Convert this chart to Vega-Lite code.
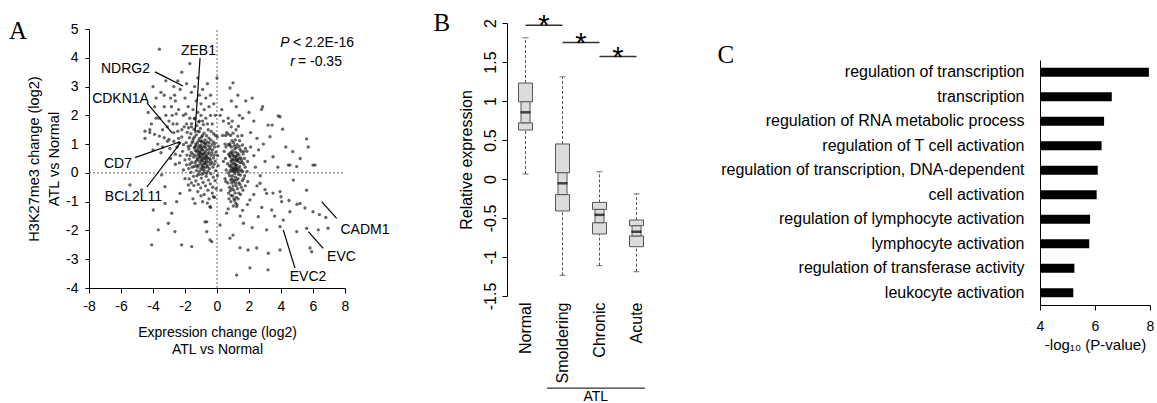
{
"$schema":"https://vega.github.io/schema/vega-lite/v6.json",
"width":1157,"height":403,"padding":0,"autosize":{"type":"none"},
"background":"white",
"config":{"view":{"stroke":null},"font":"Liberation Sans",
 "axis":{"labelFont":"Liberation Sans","titleFont":"Liberation Sans","titleFontWeight":"normal","domainColor":"#000","tickColor":"#000","labelColor":"#000","titleColor":"#000","grid":false,"labelFlush":false,"labelOverlap":false,"domainWidth":1,"tickWidth":1},
 "text":{"font":"Liberation Sans","color":"#000"}},
"datasets":{
 "refs":[{"x":0,"y":-4,"x2":0,"y2":5},{"x":-8,"y":0,"x2":8,"y2":0}],
 "leaders":[
  {"x":-3.875,"y":3.51,"x2":-2.125,"y2":3.02},
  {"x":-1.06,"y":3.99,"x2":-1.375,"y2":1.39},
  {"x":-4.375,"y":2.43,"x2":-2.81,"y2":1.39},
  {"x":-5.125,"y":0.53,"x2":-2.31,"y2":1.08},
  {"x":-4.375,"y":-0.49,"x2":-2.25,"y2":1.07},
  {"x":6.54,"y":-1.0,"x2":7.48,"y2":-1.58},
  {"x":5.71,"y":-2.04,"x2":6.64,"y2":-2.62},
  {"x":4.14,"y":-1.98,"x2":4.875,"y2":-3.31}],
 "genes":[
  {"label":"NDRG2","x":-5.72,"y":3.61},
  {"label":"ZEB1","x":-1.16,"y":4.24},
  {"label":"CDKN1A","x":-6.03,"y":2.57},
  {"label":"CD7","x":-6.19,"y":0.31},
  {"label":"BCL2L11","x":-5.22,"y":-0.84},
  {"label":"CADM1","x":9.25,"y":-1.98},
  {"label":"EVC","x":7.78,"y":-2.91},
  {"label":"EVC2","x":5.69,"y":-3.62}],
 "statsIt":[{"label":"P","x":4.25,"y":4.51},{"label":"r","x":4.72,"y":3.85}],
 "statsTx":[{"label":"< 2.2E-16","x":4.75,"y":4.51},{"label":"= -0.35","x":5.06,"y":3.85}],
 "letters":[{"label":"A","x":-12.44,"y":4.93},{"label":"B","x":14.06,"y":5.21},{"label":"C","x":31.81,"y":4.1}],
 "scatter":[
  {"x":-4.5,"y":1.2},{"x":-4.3,"y":2.1},{"x":-4.1,"y":1.7},{"x":-4.0,"y":3.0},{"x":-3.9,"y":2.3},{"x":-3.8,"y":2.6},{"x":-3.6,"y":1.9},{"x":-3.6,"y":4.3},{"x":-3.5,"y":2.8},{"x":-3.4,"y":1.5},
  {"x":-3.3,"y":2.3},{"x":-3.2,"y":3.2},{"x":-3.1,"y":1.1},{"x":-3.0,"y":1.8},{"x":-2.9,"y":2.6},{"x":-2.8,"y":2.0},{"x":-2.7,"y":3.0},{"x":-2.7,"y":1.4},{"x":-2.6,"y":2.5},{"x":-2.5,"y":1.7},
  {"x":-2.4,"y":2.2},{"x":-2.3,"y":2.9},{"x":-2.2,"y":1.5},{"x":-2.2,"y":3.5},{"x":-2.1,"y":2.0},{"x":-2.0,"y":2.6},{"x":-1.9,"y":1.7},{"x":-1.9,"y":3.1},{"x":-1.8,"y":2.3},{"x":-1.7,"y":3.8},
  {"x":-1.7,"y":1.9},{"x":-1.6,"y":2.8},{"x":-1.5,"y":2.2},{"x":-1.4,"y":1.9},{"x":-1.4,"y":3.0},{"x":-1.3,"y":2.5},{"x":-1.2,"y":2.1},{"x":-1.2,"y":3.3},{"x":-1.1,"y":2.7},{"x":-1.0,"y":2.0},
  {"x":-1.0,"y":2.4},{"x":-0.9,"y":1.8},{"x":-0.9,"y":2.9},{"x":-0.8,"y":2.2},{"x":-0.7,"y":2.6},{"x":-0.7,"y":1.9},{"x":-0.6,"y":3.1},{"x":-0.5,"y":2.3},{"x":-0.4,"y":2.0},{"x":-0.4,"y":2.7},
  {"x":-0.3,"y":1.7},{"x":-0.2,"y":2.4},{"x":-0.1,"y":2.0},{"x":0.0,"y":3.3},{"x":-0.6,"y":1.7},{"x":-1.1,"y":1.8},{"x":-1.6,"y":1.6},{"x":-2.4,"y":1.2},{"x":-3.7,"y":1.0},{"x":-4.2,"y":1.5},
  {"x":-4.5,"y":1.45},{"x":-4.2,"y":1.4},{"x":-3.9,"y":1.34},{"x":-3.6,"y":1.28},{"x":-3.3,"y":1.22},{"x":-3.0,"y":1.16},{"x":-2.7,"y":1.1},{"x":-2.4,"y":1.04},{"x":-2.1,"y":0.98},{"x":-1.8,"y":0.92},
  {"x":-1.93,"y":1.05},{"x":-1.88,"y":0.62},{"x":-1.91,"y":0.28},{"x":-1.86,"y":1.41},
  {"x":-1.77,"y":0.15},{"x":-1.73,"y":0.48},{"x":-1.76,"y":0.83},{"x":-1.72,"y":1.22},{"x":-1.78,"y":1.57},{"x":-1.74,"y":-0.21},
  {"x":-1.62,"y":0.02},{"x":-1.58,"y":0.37},{"x":-1.61,"y":0.71},{"x":-1.57,"y":1.04},{"x":-1.63,"y":1.36},{"x":-1.59,"y":1.71},{"x":-1.6,"y":-0.35},
  {"x":-1.47,"y":-0.12},{"x":-1.43,"y":0.22},{"x":-1.46,"y":0.55},{"x":-1.42,"y":0.88},{"x":-1.48,"y":1.19},{"x":-1.44,"y":1.52},{"x":-1.41,"y":1.88},{"x":-1.45,"y":-0.44},
  {"x":-1.32,"y":-0.28},{"x":-1.28,"y":0.08},{"x":-1.31,"y":0.41},{"x":-1.27,"y":0.73},{"x":-1.33,"y":1.01},{"x":-1.29,"y":1.32},{"x":-1.26,"y":1.64},{"x":-1.3,"y":0.95},{"x":-1.34,"y":0.6},
  {"x":-1.17,"y":-0.4},{"x":-1.13,"y":-0.05},{"x":-1.16,"y":0.27},{"x":-1.12,"y":0.58},{"x":-1.18,"y":0.86},{"x":-1.14,"y":1.12},{"x":-1.11,"y":1.43},{"x":-1.15,"y":1.77},{"x":-1.19,"y":0.45},{"x":-1.1,"y":0.7},
  {"x":-1.02,"y":-0.52},{"x":-0.98,"y":-0.18},{"x":-1.01,"y":0.14},{"x":-0.97,"y":0.43},{"x":-1.03,"y":0.69},{"x":-0.99,"y":0.97},{"x":-0.96,"y":1.25},{"x":-1.04,"y":1.55},{"x":-1.0,"y":0.31},{"x":-0.95,"y":0.82},
  {"x":-0.87,"y":-0.33},{"x":-0.83,"y":0.0},{"x":-0.86,"y":0.29},{"x":-0.82,"y":0.55},{"x":-0.88,"y":0.79},{"x":-0.84,"y":1.06},{"x":-0.81,"y":1.38},{"x":-0.85,"y":1.68},{"x":-0.89,"y":0.42},{"x":-0.8,"y":0.92},
  {"x":-0.72,"y":-0.45},{"x":-0.68,"y":-0.12},{"x":-0.71,"y":0.19},{"x":-0.67,"y":0.47},{"x":-0.73,"y":0.74},{"x":-0.69,"y":1.0},{"x":-0.66,"y":1.29},{"x":-0.7,"y":0.6},{"x":-0.74,"y":0.33},
  {"x":-0.57,"y":-0.6},{"x":-0.53,"y":-0.25},{"x":-0.56,"y":0.06},{"x":-0.52,"y":0.38},{"x":-0.58,"y":0.66},{"x":-0.54,"y":0.94},{"x":-0.51,"y":1.21},{"x":-0.55,"y":1.5},{"x":-0.59,"y":0.52},
  {"x":-0.42,"y":-0.38},{"x":-0.38,"y":-0.03},{"x":-0.41,"y":0.3},{"x":-0.37,"y":0.61},{"x":-0.43,"y":0.89},{"x":-0.39,"y":1.15},{"x":-0.36,"y":1.44},{"x":-0.4,"y":0.45},
  {"x":-0.27,"y":-0.5},{"x":-0.23,"y":-0.15},{"x":-0.26,"y":0.2},{"x":-0.22,"y":0.52},{"x":-0.28,"y":0.8},{"x":-0.24,"y":1.08},{"x":-0.21,"y":1.36},
  {"x":-0.12,"y":-0.27},{"x":-0.08,"y":0.08},{"x":-0.11,"y":0.41},{"x":-0.07,"y":0.72},{"x":-0.13,"y":1.02},{"x":-0.09,"y":1.3},
  {"x":0.03,"y":-0.1},{"x":0.07,"y":0.25},{"x":0.04,"y":0.6},{"x":0.08,"y":0.93},{"x":0.02,"y":1.25},
  {"x":-1.08,"y":0.52},{"x":-0.92,"y":0.64},{"x":-1.22,"y":0.78},{"x":-0.78,"y":0.5},{"x":-0.9,"y":0.12},{"x":-1.2,"y":0.2},{"x":-0.62,"y":0.8},{"x":-1.38,"y":0.9},{"x":-0.5,"y":0.7},{"x":-0.75,"y":1.15},{"x":-1.05,"y":0.9},{"x":-0.95,"y":1.1},
  {"x":-1.0,"y":-0.8},{"x":-0.8,"y":-0.75},{"x":-0.5,"y":-0.9},{"x":-0.3,"y":-0.7},{"x":-1.2,"y":-0.65},{"x":-0.6,"y":-1.05},{"x":-0.9,"y":-1.0},{"x":-0.4,"y":-1.2},{"x":-1.5,"y":-0.9},{"x":-0.15,"y":-0.85},{"x":-1.7,"y":-0.6},{"x":-0.05,"y":-0.55},
  {"x":-1.55,"y":0.2},{"x":-1.5,"y":0.65},{"x":-1.52,"y":1.1},{"x":-1.38,"y":0.35},{"x":-1.36,"y":0.78},{"x":-1.4,"y":1.25},{"x":-1.25,"y":-0.1},{"x":-1.24,"y":0.5},{"x":-1.22,"y":1.05},{"x":-1.21,"y":1.45},
  {"x":-1.09,"y":0.05},{"x":-1.07,"y":0.38},{"x":-1.06,"y":0.76},{"x":-1.09,"y":1.2},{"x":-0.94,"y":-0.05},{"x":-0.93,"y":0.22},{"x":-0.92,"y":0.5},{"x":-0.94,"y":0.88},{"x":-0.91,"y":1.3},{"x":-0.79,"y":0.08},
  {"x":-0.77,"y":0.36},{"x":-0.78,"y":0.68},{"x":-0.76,"y":1.02},{"x":-0.64,"y":-0.02},{"x":-0.63,"y":0.28},{"x":-0.65,"y":0.56},{"x":-0.62,"y":1.08},{"x":-0.48,"y":0.15},{"x":-0.47,"y":0.5},{"x":-0.46,"y":0.82},
  {"x":-0.49,"y":1.05},{"x":-0.33,"y":0.36},{"x":-0.32,"y":0.7},{"x":-0.31,"y":0.98},{"x":-0.18,"y":0.3},{"x":-0.17,"y":0.62},{"x":-0.16,"y":0.9},{"x":-1.68,"y":0.6},{"x":-1.66,"y":0.95},{"x":-1.7,"y":0.3},
  {"x":-1.02,"y":0.58},{"x":-0.88,"y":0.66},{"x":-1.16,"y":0.64},{"x":-0.72,"y":0.88},{"x":-0.58,"y":0.22},{"x":-1.3,"y":0.25},{"x":-1.0,"y":1.1},{"x":-0.85,"y":0.2},{"x":-1.12,"y":0.95},{"x":-0.66,"y":0.4},
  {"x":-3.4,"y":0.9},{"x":-3.1,"y":1.6},{"x":-2.95,"y":0.85},{"x":-2.75,"y":1.7},{"x":-2.6,"y":0.65},{"x":-2.45,"y":1.45},{"x":-2.35,"y":0.35},{"x":-2.2,"y":1.25},{"x":-2.15,"y":0.75},{"x":-2.05,"y":1.6},
  {"x":-2.0,"y":0.45},{"x":-1.95,"y":2.05},{"x":-3.2,"y":2.0},{"x":-2.85,"y":2.3},{"x":-2.55,"y":2.05},{"x":-4.0,"y":0.8},{"x":-3.8,"y":1.9},{"x":-3.3,"y":2.7},{"x":-2.65,"y":2.7},{"x":-2.45,"y":3.2},
  {"x":0.4,"y":1.8},{"x":0.5,"y":1.0},{"x":0.4,"y":0.4},{"x":0.5,"y":-0.2},{"x":0.3,"y":2.2},{"x":0.6,"y":1.4},{"x":0.2,"y":2.0},{"x":0.45,"y":0.75},{"x":0.25,"y":-0.6},{"x":0.35,"y":1.3},
  {"x":0.55,"y":-0.3},{"x":0.57,"y":0.1},{"x":0.53,"y":0.5},{"x":0.56,"y":0.9},{"x":0.54,"y":1.3},
  {"x":0.72,"y":-0.7},{"x":0.68,"y":-0.35},{"x":0.71,"y":0.0},{"x":0.67,"y":0.32},{"x":0.73,"y":0.65},{"x":0.69,"y":0.98},{"x":0.7,"y":1.35},{"x":0.74,"y":1.72},
  {"x":0.87,"y":-1.0},{"x":0.83,"y":-0.62},{"x":0.86,"y":-0.25},{"x":0.82,"y":0.08},{"x":0.88,"y":0.4},{"x":0.84,"y":0.7},{"x":0.81,"y":1.02},{"x":0.85,"y":1.3},{"x":0.89,"y":1.6},{"x":0.86,"y":0.22},{"x":0.83,"y":0.55},
  {"x":1.02,"y":-1.15},{"x":0.98,"y":-0.8},{"x":1.01,"y":-0.45},{"x":0.97,"y":-0.1},{"x":1.03,"y":0.2},{"x":0.99,"y":0.48},{"x":0.96,"y":0.76},{"x":1.04,"y":1.05},{"x":1.0,"y":1.38},{"x":0.95,"y":1.8},{"x":1.05,"y":0.35},{"x":0.98,"y":0.62},
  {"x":1.17,"y":-1.05},{"x":1.13,"y":-0.7},{"x":1.16,"y":-0.36},{"x":1.12,"y":-0.02},{"x":1.18,"y":0.28},{"x":1.14,"y":0.56},{"x":1.11,"y":0.84},{"x":1.15,"y":1.15},{"x":1.19,"y":1.5},{"x":1.1,"y":0.12},{"x":1.2,"y":0.42},
  {"x":1.32,"y":-0.9},{"x":1.28,"y":-0.55},{"x":1.31,"y":-0.2},{"x":1.27,"y":0.1},{"x":1.33,"y":0.4},{"x":1.29,"y":0.68},{"x":1.26,"y":0.98},{"x":1.3,"y":1.28},{"x":1.34,"y":1.62},{"x":1.25,"y":0.25},
  {"x":1.47,"y":-0.75},{"x":1.43,"y":-0.4},{"x":1.46,"y":-0.08},{"x":1.42,"y":0.22},{"x":1.48,"y":0.52},{"x":1.44,"y":0.82},{"x":1.41,"y":1.12},{"x":1.45,"y":0.35},
  {"x":1.62,"y":-0.6},{"x":1.58,"y":-0.27},{"x":1.61,"y":0.05},{"x":1.57,"y":0.36},{"x":1.63,"y":0.66},{"x":1.59,"y":0.97},{"x":1.56,"y":1.3},
  {"x":1.77,"y":-0.45},{"x":1.73,"y":-0.1},{"x":1.76,"y":0.2},{"x":1.72,"y":0.5},{"x":1.78,"y":0.85},
  {"x":1.92,"y":-0.3},{"x":1.88,"y":0.05},{"x":1.91,"y":0.4},{"x":1.87,"y":0.75},
  {"x":1.07,"y":0.15},{"x":1.22,"y":0.05},{"x":0.93,"y":0.3},{"x":1.24,"y":0.6},{"x":1.08,"y":0.45},{"x":0.92,"y":-0.2},{"x":1.35,"y":-0.05},{"x":1.2,"y":-0.45},{"x":1.05,"y":-0.6},{"x":0.9,"y":0.9},{"x":1.38,"y":0.5},{"x":1.15,"y":0.72},
  {"x":0.78,"y":-0.5},{"x":0.79,"y":-0.1},{"x":0.77,"y":0.25},{"x":0.78,"y":0.6},{"x":0.8,"y":0.95},{"x":0.93,"y":-0.55},{"x":0.92,"y":-0.35},{"x":0.94,"y":0.05},{"x":0.93,"y":0.45},{"x":0.95,"y":0.68},
  {"x":0.94,"y":1.12},{"x":1.06,"y":-0.9},{"x":1.07,"y":-0.25},{"x":1.08,"y":0.05},{"x":1.06,"y":0.58},{"x":1.09,"y":0.95},{"x":1.21,"y":-0.85},{"x":1.22,"y":-0.25},{"x":1.23,"y":0.15},{"x":1.21,"y":0.5},
  {"x":1.22,"y":0.88},{"x":1.36,"y":-0.7},{"x":1.37,"y":-0.35},{"x":1.36,"y":0.15},{"x":1.37,"y":0.62},{"x":1.39,"y":0.92},{"x":1.52,"y":-0.5},{"x":1.52,"y":0.1},{"x":1.53,"y":0.45},{"x":1.51,"y":0.75},
  {"x":1.66,"y":-0.2},{"x":1.67,"y":0.3},{"x":1.68,"y":0.75},{"x":1.0,"y":0.1},{"x":1.12,"y":0.3},{"x":1.18,"y":0.18},{"x":0.9,"y":0.15},{"x":1.28,"y":0.45},{"x":1.03,"y":-0.3},{"x":1.15,"y":-0.15},
  {"x":1.4,"y":0.05},{"x":0.88,"y":-0.78},{"x":1.1,"y":-0.95},{"x":0.75,"y":-0.9},{"x":1.25,"y":-1.1},
  {"x":0.9,"y":2.5},{"x":1.2,"y":2.3},{"x":1.4,"y":2.0},{"x":0.7,"y":1.9},{"x":1.6,"y":1.9},{"x":1.0,"y":3.13},{"x":0.81,"y":2.95},{"x":1.3,"y":2.7},{"x":1.8,"y":2.5},{"x":2.0,"y":2.1},
  {"x":2.3,"y":1.8},{"x":2.1,"y":1.4},{"x":2.5,"y":1.2},{"x":2.79,"y":2.21},{"x":2.85,"y":2.3},{"x":3.83,"y":1.98},{"x":3.94,"y":1.95},{"x":3.19,"y":1.66},{"x":3.44,"y":1.66},{"x":4.1,"y":1.52},
  {"x":5.6,"y":1.18},{"x":5.7,"y":0.9},{"x":4.73,"y":0.74},{"x":6.0,"y":0.27},{"x":4.56,"y":0.27},{"x":3.31,"y":1.26},{"x":3.5,"y":0.56},{"x":2.6,"y":0.8},{"x":2.9,"y":1.0},{"x":3.0,"y":0.4},
  {"x":2.3,"y":0.6},{"x":2.1,"y":0.9},{"x":2.4,"y":0.2},{"x":2.7,"y":-0.1},{"x":3.8,"y":0.2},{"x":4.3,"y":0.9},{"x":5.2,"y":0.5},{"x":2.2,"y":2.6},
  {"x":2.5,"y":-0.45},{"x":3.0,"y":-0.58},{"x":3.5,"y":-0.7},{"x":4.0,"y":-0.83},{"x":4.5,"y":-0.96},{"x":5.0,"y":-1.09},{"x":5.5,"y":-1.22},{"x":6.0,"y":-1.35},{"x":6.4,"y":-1.45},{"x":6.8,"y":-1.55},
  {"x":-0.64,"y":-1.7},{"x":-0.44,"y":-2.33},{"x":1.23,"y":-3.55},{"x":2.06,"y":-3.3},{"x":3.19,"y":-3.37},{"x":1.44,"y":-2.6},{"x":1.94,"y":-2.68},{"x":2.48,"y":-2.61},{"x":3.21,"y":-2.79},{"x":3.94,"y":-2.68},
  {"x":5.81,"y":-2.61},{"x":5.92,"y":-2.74},{"x":3.94,"y":-1.87},{"x":3.1,"y":-1.98},{"x":4.98,"y":-2.04},{"x":6.33,"y":-1.98},{"x":6.94,"y":-1.92},{"x":5.6,"y":-1.93},{"x":4.14,"y":-1.64},{"x":4.56,"y":-1.35},
  {"x":5.19,"y":-1.06},{"x":4.04,"y":-1.0},{"x":3.42,"y":-1.29},{"x":2.58,"y":-1.52},{"x":1.65,"y":-1.75},{"x":0.81,"y":-2.27},{"x":1.0,"y":-2.16},{"x":0.19,"y":-1.81},{"x":0.6,"y":-1.4},{"x":2.06,"y":-0.94},
  {"x":3.1,"y":-0.71},{"x":3.94,"y":-0.65},{"x":4.77,"y":-0.25},{"x":5.6,"y":-0.6},{"x":6.13,"y":0.27},{"x":4.46,"y":0.27},{"x":4.98,"y":0.22},{"x":2.69,"y":-0.36},{"x":1.23,"y":-1.17},{"x":-0.23,"y":-0.83},
  {"x":1.6,"y":-1.3},{"x":1.9,"y":-1.1},{"x":2.3,"y":-0.75},{"x":2.8,"y":-1.2},{"x":1.45,"y":-1.5},{"x":0.7,"y":-1.25},{"x":2.2,"y":-1.9},{"x":3.6,"y":-1.5},
  {"x":-5.44,"y":-0.42},{"x":-4.08,"y":-2.5},{"x":-3.67,"y":-1.98},{"x":-2.63,"y":-2.04},{"x":-2.21,"y":-2.5},{"x":-1.58,"y":-2.56},{"x":-3.04,"y":-1.75},{"x":-3.98,"y":-1.29},{"x":-3.25,"y":-1.06},{"x":-2.83,"y":-1.4},
  {"x":-2.52,"y":-1.0},{"x":-3.25,"y":-0.48},{"x":-2.31,"y":-0.71},{"x":-1.79,"y":-0.42},{"x":-1.38,"y":-1.06},{"x":-0.75,"y":-1.7},{"x":-0.44,"y":-1.17},{"x":-0.33,"y":-2.39},{"x":-0.64,"y":-2.04},{"x":-4.71,"y":-0.59},
  {"x":-3.46,"y":-0.07},{"x":-2.0,"y":-0.2},{"x":-2.6,"y":0.3},{"x":-2.3,"y":0.6},{"x":-2.9,"y":0.5},{"x":-3.5,"y":0.7},{"x":-2.1,"y":0.1},{"x":-2.5,"y":0.9}
 ],
 "whiskers":[
  {"g":"Normal","y":0.064,"y2":0.628},{"g":"Normal","y":1.23,"y2":1.81},
  {"g":"Smoldering","y":-1.235,"y2":-0.41},{"g":"Smoldering","y":0.449,"y2":1.31},
  {"g":"Chronic","y":-1.11,"y2":-0.705},{"g":"Chronic","y":-0.3,"y2":0.094},
  {"g":"Acute","y":-1.188,"y2":-0.868},{"g":"Acute","y":-0.526,"y2":-0.19}],
 "caps":[
  {"g":"Normal","y":0.064},{"g":"Normal","y":1.81},
  {"g":"Smoldering","y":-1.235},{"g":"Smoldering","y":1.31},
  {"g":"Chronic","y":-1.11},{"g":"Chronic","y":0.094},
  {"g":"Acute","y":-1.188},{"g":"Acute","y":-0.19}],
 "boxwide":[
  {"g":"Normal","y":0.628,"y2":0.72},{"g":"Normal","y":0.99,"y2":1.23},
  {"g":"Smoldering","y":-0.41,"y2":-0.2},{"g":"Smoldering","y":0.08,"y2":0.449},
  {"g":"Chronic","y":-0.705,"y2":-0.56},{"g":"Chronic","y":-0.39,"y2":-0.3},
  {"g":"Acute","y":-0.868,"y2":-0.73},{"g":"Acute","y":-0.6,"y2":-0.526}],
 "boxnarrow":[
  {"g":"Normal","y":0.72,"y2":0.99},
  {"g":"Smoldering","y":-0.2,"y2":0.08},
  {"g":"Chronic","y":-0.56,"y2":-0.39},
  {"g":"Acute","y":-0.73,"y2":-0.6}],
 "medians":[
  {"g":"Normal","y":0.855},{"g":"Smoldering","y":-0.055},{"g":"Chronic","y":-0.46},{"g":"Acute","y":-0.676}],
 "sig":[
  {"g":"Normal","g2":"Smoldering","y":1.97,"label":"*"},
  {"g":"Smoldering","g2":"Chronic","y":1.75,"label":"*"},
  {"g":"Chronic","g2":"Acute","y":1.57,"label":"*"}],
 "atl":[{"g":"Smoldering","g2":"Acute","y":-2.68}],
 "atltext":[{"g":"Chronic","y":-2.85,"label":"ATL"}],
 "go":[
  {"term":"regulation of transcription","v":7.96},
  {"term":"transcription","v":6.61},
  {"term":"regulation of RNA metabolic process","v":6.33},
  {"term":"regulation of T cell activation","v":6.24},
  {"term":"regulation of transcription, DNA-dependent","v":6.1},
  {"term":"cell activation","v":6.06},
  {"term":"regulation of lymphocyte activation","v":5.82},
  {"term":"lymphocyte activation","v":5.79},
  {"term":"regulation of transferase activity","v":5.25},
  {"term":"leukocyte activation","v":5.21}]
},
"resolve":{"scale":{"x":"independent","y":"independent"},"axis":{"x":"independent","y":"independent"}},
"layer":[
 {
  "encoding":{
   "x":{"field":"x","type":"quantitative","scale":{"domain":[-8,8],"range":[89,345],"nice":false,"zero":false},
    "axis":{"orient":"bottom","offset":-115,"values":[-8,-6,-4,-2,0,2,4,6,8],"labelExpr":"replace(format(datum.value,'~g'),'\u2212','-')","labelFontSize":14,"tickSize":5,"labelPadding":6,"title":["Expression change (log2)","ATL vs Normal"],"titleFontSize":14,"titleLineHeight":17,"titlePadding":12}},
   "y":{"field":"y","type":"quantitative","scale":{"domain":[-4,5],"range":[288,29],"nice":false,"zero":false},
    "axis":{"orient":"left","offset":-89,"values":[-4,-3,-2,-1,0,1,2,3,4,5],"labelExpr":"replace(format(datum.value,'~g'),'\u2212','-')","labelFontSize":14,"tickSize":4,"labelPadding":7,"title":["H3K27me3 change (log2)","ATL vs Normal"],"titleFontSize":14.5,"titleLineHeight":20,"titlePadding":4}}
  },
  "layer":[
   {"data":{"name":"refs"},"mark":{"type":"rule","color":"#666","strokeDash":[2,2],"strokeWidth":1},"encoding":{"x2":{"field":"x2"},"y2":{"field":"y2"}}},
   {"data":{"name":"scatter"},"mark":{"type":"circle","size":11,"color":"#111","opacity":0.65},"encoding":{}},
   {"data":{"name":"leaders"},"mark":{"type":"rule","color":"#000","strokeWidth":1.2},"encoding":{"x2":{"field":"x2"},"y2":{"field":"y2"}}},
   {"data":{"name":"genes"},"mark":{"type":"text","fontSize":14,"align":"center","baseline":"middle"},"encoding":{"text":{"field":"label"}}},
   {"data":{"name":"statsIt"},"mark":{"type":"text","fontSize":14,"fontStyle":"italic","align":"center","baseline":"middle"},"encoding":{"text":{"field":"label"}}},
   {"data":{"name":"statsTx"},"mark":{"type":"text","fontSize":14,"align":"left","baseline":"middle"},"encoding":{"text":{"field":"label"}}},
   {"data":{"name":"letters"},"mark":{"type":"text","font":"Liberation Serif","fontSize":25,"align":"center","baseline":"middle"},"encoding":{"text":{"field":"label"}}}
  ]
 },
 {
  "encoding":{
   "x":{"field":"g","type":"nominal","sort":null,"scale":{"type":"band","domain":["Normal","Smoldering","Chronic","Acute"],"range":[507,655],"paddingInner":0,"paddingOuter":0},
    "axis":{"orient":"bottom","offset":-107,"domain":false,"ticks":false,"labelAngle":-90,"labelAlign":"right","labelBaseline":"middle","labelPadding":6,"labelFontSize":16,"title":null}},
   "y":{"field":"y","type":"quantitative","scale":{"domain":[-1.5,2],"range":[296,23],"nice":false,"zero":false},
    "axis":{"orient":"left","offset":-507,"values":[-1.5,-1,-0.5,0,0.5,1,1.5,2],"labelExpr":"replace(format(datum.value,'~g'),'\u2212','-')","labelAngle":-90,"labelAlign":"center","labelBaseline":"bottom","labelPadding":4,"tickSize":5,"labelFontSize":16,"title":"Relative expression","titleFontSize":16,"titlePadding":8}}
  },
  "layer":[
   {"data":{"name":"whiskers"},"mark":{"type":"rule","color":"#555","strokeDash":[3,2],"strokeWidth":1},"encoding":{"y2":{"field":"y2"}}},
   {"data":{"name":"caps"},"mark":{"type":"tick","color":"#555","size":6,"thickness":1.2},"encoding":{}},
   {"data":{"name":"boxwide"},"mark":{"type":"bar","size":14,"color":"#dcdcdc","stroke":"#555","strokeWidth":1},"encoding":{"y2":{"field":"y2"}}},
   {"data":{"name":"boxnarrow"},"mark":{"type":"bar","size":9,"color":"#dcdcdc","stroke":"#555","strokeWidth":1},"encoding":{"y2":{"field":"y2"}}},
   {"data":{"name":"medians"},"mark":{"type":"tick","color":"#000","size":10,"thickness":2.5},"encoding":{}},
   {"data":{"name":"sig"},"mark":{"type":"rule","color":"#333","strokeWidth":1.5},
    "encoding":{"x":{"field":"g","type":"nominal","sort":null,"bandPosition":0.5,"scale":{"type":"band","domain":["Normal","Smoldering","Chronic","Acute"],"range":[507,655],"paddingInner":0,"paddingOuter":0},
      "axis":{"orient":"bottom","offset":-107,"domain":false,"ticks":false,"labelAngle":-90,"labelAlign":"right","labelBaseline":"middle","labelPadding":6,"labelFontSize":16,"title":null}},
     "x2":{"field":"g2","bandPosition":0.5}}},
   {"data":{"name":"sig"},"mark":{"type":"text","fontSize":29,"align":"center","baseline":"alphabetic","dy":10},
    "encoding":{"x":{"field":"g","type":"nominal","sort":null,"bandPosition":1,"scale":{"type":"band","domain":["Normal","Smoldering","Chronic","Acute"],"range":[507,655],"paddingInner":0,"paddingOuter":0},
      "axis":{"orient":"bottom","offset":-107,"domain":false,"ticks":false,"labelAngle":-90,"labelAlign":"right","labelBaseline":"middle","labelPadding":6,"labelFontSize":16,"title":null}},
     "text":{"field":"label"}}},
   {"data":{"name":"atl"},"mark":{"type":"rule","color":"#333","strokeWidth":1.2},
    "encoding":{"x":{"field":"g","type":"nominal","sort":null,"bandPosition":0.08,"scale":{"type":"band","domain":["Normal","Smoldering","Chronic","Acute"],"range":[507,655],"paddingInner":0,"paddingOuter":0},
      "axis":{"orient":"bottom","offset":-107,"domain":false,"ticks":false,"labelAngle":-90,"labelAlign":"right","labelBaseline":"middle","labelPadding":6,"labelFontSize":16,"title":null}},
     "x2":{"field":"g2","bandPosition":0.73}}},
   {"data":{"name":"atltext"},"mark":{"type":"text","fontSize":14,"align":"center","baseline":"alphabetic"},
    "encoding":{"x":{"field":"g","type":"nominal","sort":null,"bandPosition":0.4,"scale":{"type":"band","domain":["Normal","Smoldering","Chronic","Acute"],"range":[507,655],"paddingInner":0,"paddingOuter":0},
      "axis":{"orient":"bottom","offset":-107,"domain":false,"ticks":false,"labelAngle":-90,"labelAlign":"right","labelBaseline":"middle","labelPadding":6,"labelFontSize":16,"title":null}},
     "text":{"field":"label"}}}
  ]
 },
 {
  "data":{"name":"go"},
  "layer":[
   {"mark":{"type":"bar","color":"#000"},
    "encoding":{
     "y":{"field":"term","type":"nominal","sort":null,"scale":{"type":"band","range":[60,305],"paddingInner":0.63,"paddingOuter":0.315},
      "axis":{"orient":"left","offset":-1040,"ticks":false,"labelPadding":16,"labelFontSize":16,"labelLimit":400,"title":null}},
     "x":{"field":"v","type":"quantitative","scale":{"domain":[4,8],"range":[1040,1150],"nice":false,"zero":false},
      "axis":{"orient":"bottom","offset":-98,"values":[4,6,8],"tickSize":5,"labelPadding":9,"labelFontSize":14,"title":"-log₁₀ (P-value)","titleFontSize":15,"titlePadding":4}},
     "x2":{"datum":4}
    }}
  ]
 }
]
}
